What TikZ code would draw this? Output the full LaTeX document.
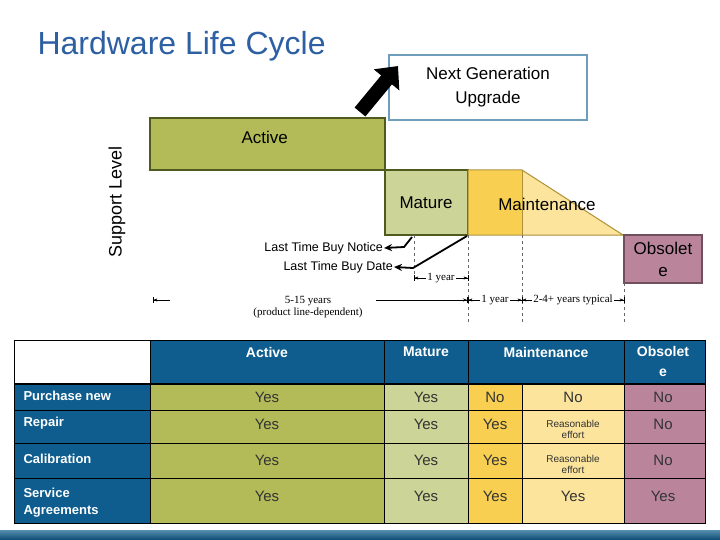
\documentclass[tikz,border=0pt]{standalone}
\usepackage{fontspec}
\setmainfont{Liberation Sans}
\newfontfamily\serif{Liberation Serif}
\usetikzlibrary{arrows.meta}
\definecolor{hblue}{HTML}{0E5D8E}
\definecolor{tblue}{HTML}{2D5FA3}
\definecolor{act}{HTML}{B3BB58}
\definecolor{mat}{HTML}{CDD497}
\definecolor{mnd}{HTML}{F8CF50}
\definecolor{mnl}{HTML}{FCE49C}
\definecolor{obs}{HTML}{BA859B}
\definecolor{olive}{HTML}{4E5A1E}
\tikzset{
 lbl/.style={font=\fontsize{17}{19}\selectfont},
 tl/.style={font=\serif\fontsize{11}{12}\selectfont,inner sep=1pt},
 hd/.style={font=\bfseries\fontsize{14}{17}\selectfont,text=white,align=center},
 rl/.style={font=\bfseries\fontsize{13}{15}\selectfont,text=white,anchor=west,align=left},
 ce/.style={font=\fontsize{15}{17}\selectfont,text=black!80},
 sm/.style={font=\fontsize{10}{11}\selectfont,align=center,text=black!80},
 dl/.style={dashed,draw=black!60,thin},
 ar/.style={-{Stealth[length=8pt,width=7pt]},line width=1.8pt},
 tick/.style={{Bar[width=6pt]Stealth[length=4pt]}-,thin},
}
\begin{document}
\begin{tikzpicture}[x=1pt,y=-1pt]
\useasboundingbox (0,0) rectangle (720,540);
\fill[white] (0,0) rectangle (720,540);
\node[anchor=west,text=tblue,font=\fontsize{32}{34}\selectfont] (title) at (34,46) {Hardware Life Cycle};
\node[rotate=90,font=\fontsize{18}{20}\selectfont] (sl) at (117,202) {Support Level};
% boxes
\draw[fill=act,draw=olive,line width=1.2pt] (150,118) rectangle (385,170);
\node[lbl,anchor=west] (acttxt) at (238,137) {Active};
\draw[fill=mat,draw=olive,line width=1.2pt] (385,170) rectangle (468,235);
\node[lbl] (mattxt) at (426,203) {Mature};
\fill[mnd] (468,170) rectangle (522,235);
\fill[mnl] (522,170) -- (623,235) -- (522,235) -- cycle;
\draw[draw=mnd!70!black,line width=1pt] (468,170) -- (522,170) -- (623,235) -- (468,235) -- cycle;
\draw[draw=mnd!70!black,line width=0.8pt] (522,170) -- (522,235);
\node[lbl] (mnttxt) at (547,204) {Maintenance};
\draw[fill=obs,draw=obs!60!black,line width=1.2pt] (624,235) rectangle (702,283);
\node[lbl,align=center,font=\fontsize{17}{22}\selectfont] (obstxt) at (663,259) {Obsolet\\e};
\draw[fill=white,draw=hblue!60,line width=1.2pt] (389,55) rectangle (587,120);
\node[align=center,font=\fontsize{17}{24}\selectfont] (ng) at (488,87) {Next Generation\\Upgrade};
\coordinate (ga) at (360,112);
\coordinate (gb) at (398,66);
\draw[-{Triangle[width=32pt,length=18pt]},line width=14pt,black] (ga) -- (gb);
% dashed
\draw[dl] (414,235) -- (414,282);
\draw[dl] (468,235) -- (468,325);
\draw[dl] (522,235) -- (522,325);
\draw[dl] (624,283) -- (624,325);
% LTB arrows
\node[font=\fontsize{12.5}{14}\selectfont,anchor=east,inner sep=1pt] (ltbn) at (384,248) {Last Time Buy Notice};
\node[font=\fontsize{12.5}{14}\selectfont,anchor=east,inner sep=1pt] (ltbd) at (394,267) {Last Time Buy Date};
\coordinate (pn) at (412,237);
\coordinate (pd) at (467,236);
\draw[ar] (pn) -- (404,247) -- (ltbn.east);
\draw[ar] (pd) -- (413,268) -- (ltbd.east);
% timeline
\node[tl] (y1) at (441,278) {1 year};
\draw[tick] (414,278) -- (y1.west);
\draw[tick] (468,278) -- (y1.east);
\node[tl,align=center] (y515) at (308,307) {5-15 years\\(product line-dependent)};
\coordinate (t0) at (153,300);
\coordinate (t1) at (170,300);
\draw[tick] (t0) -- (t1);
\coordinate (t2) at (376,300);
\draw[tick,line width=1pt] (468,300) -- (t2);
\node[tl] (y2) at (495,300) {1 year};
\draw[tick] (468,300) -- (y2.west);
\draw[tick] (522,300) -- (y2.east);
\node[tl] (y3) at (573,300) {2-4+ years typical};
\draw[tick] (522,300) -- (y3.west);
\draw[tick] (624,300) -- (y3.east);
% table
\fill[hblue] (150,340) rectangle (705,384);
\fill[hblue] (14,384) rectangle (150,523);
\fill[act] (150,384) rectangle (384,523);
\fill[mat] (384,384) rectangle (468,523);
\fill[mnd] (468,384) rectangle (522,523);
\fill[mnl] (522,384) rectangle (624,523);
\fill[obs] (624,384) rectangle (705,523);
\draw[black] (14,340) rectangle (705,523);
\foreach \x in {150,384,468,624} \draw[black] (\x,340) -- (\x,523);
\draw[black] (522,384) -- (522,523);
\draw[black,line width=2pt] (14,384) -- (705,384);
\foreach \y in {410,443,478} \draw[black] (14,\y) -- (705,\y);
\node[hd] (h1) at (267,352) {Active};
\node[hd] (h2) at (426,352) {Mature};
\node[hd] (h3) at (546,352) {Maintenance};
\node[hd,font=\bfseries\fontsize{14}{20}\selectfont] (h4) at (663,361) {Obsolet\\e};
\node[rl] (r1) at (20,396) {Purchase new};
\node[rl] (r2) at (20,423) {Repair};
\node[rl] (r3) at (20,459) {Calibration};
\node[rl,font=\bfseries\fontsize{13}{17}\selectfont] (r4) at (20,503) {Service\\Agreements};
\foreach \y/\a/\b/\c/\e [count=\i] in {397/Yes/Yes/No/No,424/Yes/Yes/Yes/No,460/Yes/Yes/Yes/No,496/Yes/Yes/Yes/Yes}{
 \node[ce] (ca\i) at (267,\y) {\a};
 \node[ce] (cb\i) at (426,\y) {\b};
 \node[ce] (cc\i) at (495,\y) {\c};
 \node[ce] (ce\i) at (663,\y) {\e};
}
\node[ce] (cd1) at (573,397) {No};
\node[sm] (cd2) at (573,429) {Reasonable\\effort};
\node[sm] (cd3) at (573,464) {Reasonable\\effort};
\node[ce] (cd4) at (573,496) {Yes};
% bottom bar
\shade[top color=hblue!70,bottom color=hblue!80!black] (0,530) rectangle (720,540);
\end{tikzpicture}
\end{document}
